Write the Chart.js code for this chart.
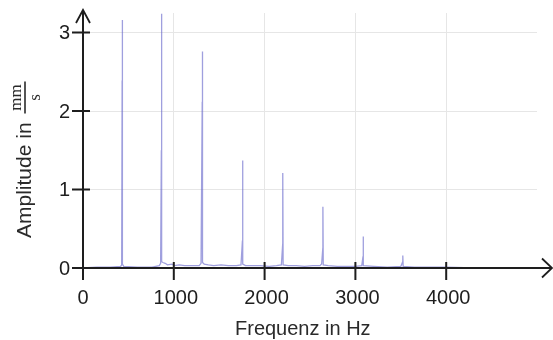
<!DOCTYPE html>
<html>
<head>
<meta charset="utf-8">
<script src="https://cdn.jsdelivr.net/npm/chart.js@4"></script>
<style>
html,body{margin:0;padding:0;background:#fff;}
#wrap{width:553px;height:340px;}
</style>
</head>
<body>
<div id="wrap"><canvas id="c" width="553" height="340"></canvas></div>
<script>
// Spectrum data (frequency in Hz, amplitude in mm/s)
const freqs = [0,150,300,415,426,431,432,436,448,600,760,840,855,863,864,868,880,905,930,980,1010,1060,1120,1200,1280,1300,1313,1314,1318,1335,1380,1440,1520,1600,1690,1740,1756,1757,1761,1790,1860,1950,2050,2130,2185,2199,2200,2204,2260,2350,2440,2530,2610,2628,2641,2642,2646,2700,2800,2900,3000,3070,3084,3085,3089,3200,3350,3500,3521,3522,3526,3650,3800,4000,4300,5000];
const amps  = [0,0.01,0.01,0.02,0.04,2.39,3.16,0.05,0.02,0.01,0.01,0.03,0.06,1.50,3.24,0.08,0.07,0.06,0.04,0.05,0.03,0.04,0.03,0.03,0.03,0.06,2.12,2.76,0.07,0.05,0.04,0.03,0.04,0.03,0.03,0.04,0.35,1.37,0.05,0.03,0.03,0.03,0.02,0.03,0.04,0.30,1.21,0.04,0.03,0.03,0.02,0.03,0.03,0.05,0.25,0.78,0.04,0.03,0.02,0.02,0.02,0.03,0.15,0.40,0.03,0.02,0.01,0.02,0.08,0.16,0.02,0.01,0.01,0.01,0,0];
const xTicks = [0,1000,2000,3000,4000];
const yTicks = [0,1,2,3];
const xTitle = 'Frequenz in Hz';
const yTitle = 'Amplitude in';
const yUnitNum = 'mm';
const yUnitDen = 's';

const points = freqs.map((f,i)=>({x:f,y:amps[i]}));
const GRID = '#e6e6e6';
const INK = '#1e1e1e';

const axesPlugin = {
  id:'axesPlugin',
  afterDatasetsDraw(chart){
    const ctx = chart.ctx;
    const xs = chart.scales.x, ys = chart.scales.y;
    const x0 = xs.getPixelForValue(0), y0 = ys.getPixelForValue(0);
    ctx.save();
    ctx.strokeStyle = INK; ctx.lineWidth = 2; ctx.lineCap='butt';
    // axes
    ctx.beginPath();
    ctx.moveTo(x0, y0); ctx.lineTo(x0, 10);
    ctx.moveTo(x0, y0); ctx.lineTo(552, y0);
    ctx.stroke();
    // arrow heads
    ctx.lineWidth = 1.8;
    ctx.beginPath();
    ctx.moveTo(x0-7, 23); ctx.lineTo(x0, 10); ctx.lineTo(x0+7, 23);
    ctx.moveTo(542, y0-9.5); ctx.lineTo(552, y0); ctx.lineTo(542, y0+9.5);
    ctx.stroke();
    // ticks
    ctx.lineWidth = 2;
    ctx.beginPath();
    xTicks.forEach(v=>{const px=xs.getPixelForValue(v); ctx.moveTo(px, y0-6); ctx.lineTo(px, y0+12);});
    yTicks.forEach(v=>{const py=ys.getPixelForValue(v); ctx.moveTo(x0-11, py); ctx.lineTo(x0+7, py);});
    ctx.stroke();
    // tick labels
    ctx.fillStyle = INK;
    ctx.font = '20px "Liberation Sans", Arial, sans-serif';
    ctx.textAlign='center'; ctx.textBaseline='middle';
    xTicks.forEach(v=>{const px=xs.getPixelForValue(v); ctx.fillText(String(v), px + (v?2:0), y0+30);});
    ctx.textAlign='right';
    yTicks.forEach(v=>{const py=ys.getPixelForValue(v); ctx.fillText(String(v), x0-13, py+1);});
    // x title
    ctx.textAlign='left'; ctx.textBaseline='alphabetic';
    ctx.font = '20px "Liberation Sans", Arial, sans-serif';
    ctx.fillStyle='#2a2a2a';
    ctx.fillText(xTitle, 235, 335);
    // y title rotated
    ctx.translate(31, 238);
    ctx.rotate(-Math.PI/2);
    ctx.font = '21px "Liberation Sans", Arial, sans-serif';
    ctx.fillText(yTitle, 0, 0);
    const w = ctx.measureText(yTitle).width;
    const fx = w + 9, fw = 32;
    ctx.strokeStyle='#2a2a2a'; ctx.lineWidth=1.6;
    ctx.beginPath(); ctx.moveTo(fx, -6); ctx.lineTo(fx+fw, -6); ctx.stroke();
    ctx.font = '17px "Liberation Serif", "DejaVu Serif", serif';
    ctx.textAlign='center';
    ctx.fillText(yUnitNum, fx+fw/2, -10);
    ctx.fillText(yUnitDen, fx+fw/2, 9);
    ctx.restore();
  }
};

new Chart(document.getElementById('c'), {
  type:'line',
  data:{datasets:[{
    data: points,
    borderColor:'rgba(95,95,200,0.6)',
    borderWidth:1.3,
    pointRadius:0,
    tension:0,
    fill:false
  }]},
  options:{
    responsive:false,
    animation:false,
    events:[],
    layout:{padding:{left:83,right:16,top:13,bottom:72}},
    plugins:{legend:{display:false},tooltip:{enabled:false},title:{display:false}},
    scales:{
      x:{type:'linear',min:0,max:5000,
         ticks:{display:false,stepSize:1000},
         border:{display:false},
         grid:{drawTicks:false,lineWidth:1,color:c=>(c.tick && c.tick.value>0 && c.tick.value<5000)?GRID:'rgba(0,0,0,0)'}},
      y:{type:'linear',min:0,max:3.25,
         ticks:{display:false,stepSize:1},
         border:{display:false},
         grid:{drawTicks:false,lineWidth:1,color:c=>(c.tick && c.tick.value>0 && Number.isInteger(c.tick.value))?GRID:'rgba(0,0,0,0)'}}
    }
  },
  plugins:[axesPlugin]
});
</script>
</body>
</html>
